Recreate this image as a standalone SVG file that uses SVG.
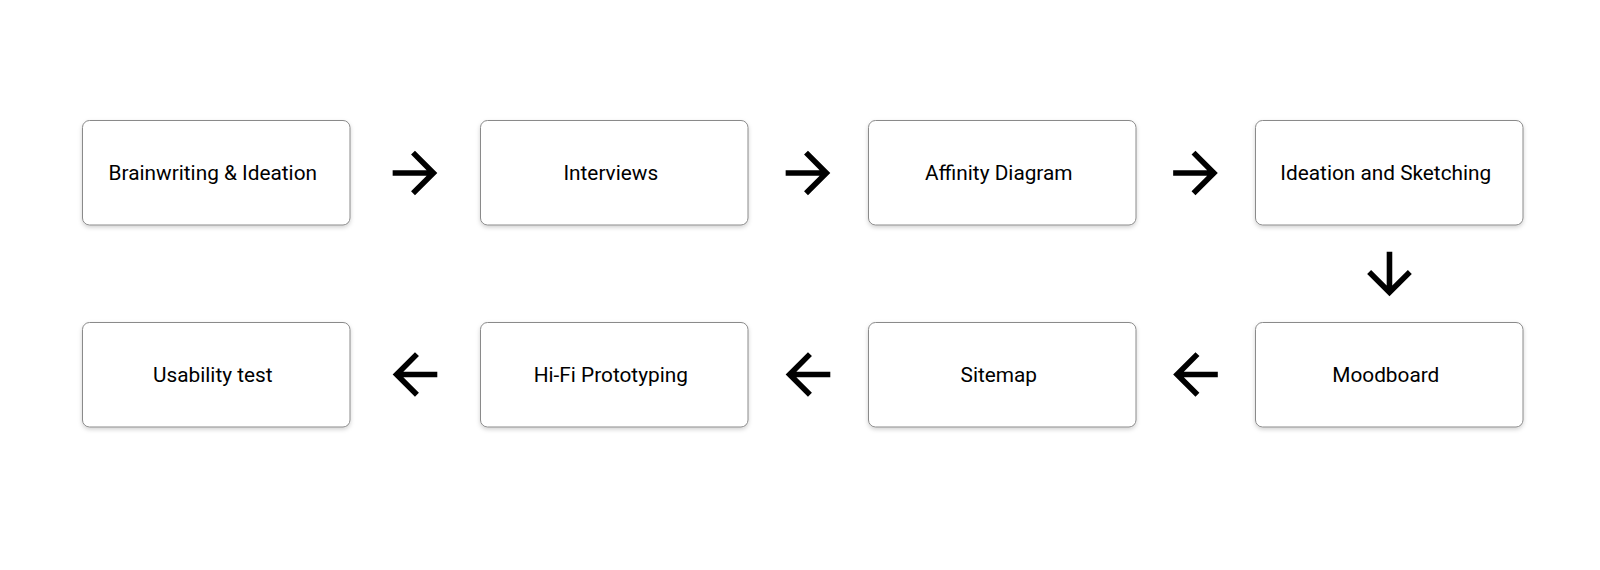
<svg xmlns="http://www.w3.org/2000/svg" width="1600" height="570" viewBox="0 0 1600 570">
<defs>
<style>
.box{fill:#fff;stroke:#8a8a8a;stroke-width:1;filter:url(#sh)}
.lbl{font-family:Roboto,"Liberation Sans",sans-serif;font-size:20.8px;fill:#000;text-anchor:middle}
.arr{fill:#000;stroke:none}
</style>
<filter id="sh" x="-10%" y="-10%" width="120%" height="130%">
<feDropShadow dx="0" dy="2" stdDeviation="2" flood-color="#000" flood-opacity="0.18"/>
</filter>
<path id="af" d="M12 4l-1.41 1.41L16.17 11H4v2h12.17l-5.58 5.59L12 20l8-8z"/>
<path id="ab" d="M20 11H7.83l5.59-5.59L12 4l-8 8 8 8 1.41-1.41L7.83 13H20v-2z"/>
<path id="ad" d="M20 12l-1.41-1.410L13 16.17V4h-2v12.17l-5.58-5.59L4 12l8 8 8-8z"/>
</defs>
<rect width="1600" height="570" fill="#fff"/>
<g id="n1"><rect class="box" x="82.5" y="120.5" width="267.5" height="104.5" rx="7"/><text class="lbl" x="212.8" y="180">Brainwriting &amp; Ideation</text></g>
<g id="n2"><rect class="box" x="480.5" y="120.5" width="267.5" height="104.5" rx="7"/><text class="lbl" x="610.8" y="180">Interviews</text></g>
<g id="n3"><rect class="box" x="868.5" y="120.5" width="267.5" height="104.5" rx="7"/><text class="lbl" x="998.8" y="180">Affinity Diagram</text></g>
<g id="n4"><rect class="box" x="1255.5" y="120.5" width="267.5" height="104.5" rx="7"/><text class="lbl" x="1385.8" y="180">Ideation and Sketching</text></g>
<g id="n5"><rect class="box" x="1255.5" y="322.5" width="267.5" height="104.5" rx="7"/><text class="lbl" x="1385.8" y="382">Moodboard</text></g>
<g id="n6"><rect class="box" x="868.5" y="322.5" width="267.5" height="104.5" rx="7"/><text class="lbl" x="998.8" y="382">Sitemap</text></g>
<g id="n7"><rect class="box" x="480.5" y="322.5" width="267.5" height="104.5" rx="7"/><text class="lbl" x="610.8" y="382">Hi-Fi Prototyping</text></g>
<g id="n8"><rect class="box" x="82.5" y="322.5" width="267.5" height="104.5" rx="7"/><text class="lbl" x="212.8" y="382">Usability test</text></g>
<g id="connectors">
<use href="#af" class="arr" transform="translate(381.5 139.5) scale(2.79)"/>
<use href="#af" class="arr" transform="translate(774.5 139.5) scale(2.79)"/>
<use href="#af" class="arr" transform="translate(1162 139.5) scale(2.79)"/>
<use href="#ad" class="arr" transform="translate(1356 240.5) scale(2.79)"/>
<use href="#ab" class="arr" transform="translate(1162 341) scale(2.79)"/>
<use href="#ab" class="arr" transform="translate(774.5 341) scale(2.79)"/>
<use href="#ab" class="arr" transform="translate(381.5 341) scale(2.79)"/>
</g>
</svg>
